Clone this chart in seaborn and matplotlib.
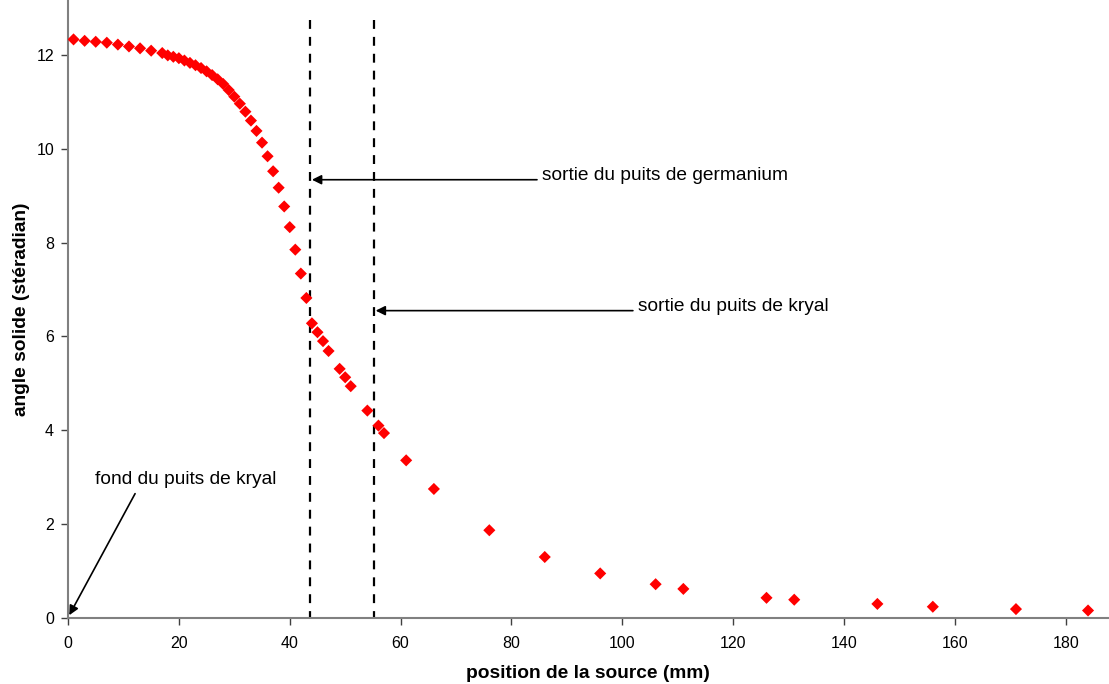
import matplotlib
matplotlib.use("Agg")
import matplotlib.pyplot as plt
import seaborn as sns
import pandas as pd

# Data
position_mm = [1, 3, 5, 7, 9, 11, 13, 15, 17, 18, 19, 20, 21, 22, 23, 24, 25, 26,
               27, 28, 29, 30, 31, 32, 33, 34, 35, 36, 37, 38, 39, 40, 41, 42, 43,
               44, 45, 46, 47, 49, 50, 51, 54, 56, 57, 61, 66, 76, 86, 96, 106, 111,
               126, 131, 146, 156, 171, 184]
angle_sr = [12.33, 12.30, 12.28, 12.26, 12.22, 12.18, 12.14, 12.09, 12.04, 11.99,
            11.96, 11.93, 11.88, 11.83, 11.78, 11.72, 11.65, 11.57, 11.48, 11.38,
            11.25, 11.11, 10.96, 10.79, 10.60, 10.38, 10.13, 9.84, 9.52, 9.17,
            8.77, 8.33, 7.85, 7.34, 6.82, 6.28, 6.09, 5.90, 5.69, 5.31, 5.13, 4.94,
            4.42, 4.10, 3.94, 3.36, 2.75, 1.87, 1.30, 0.95, 0.72, 0.62, 0.43, 0.39,
            0.30, 0.24, 0.19, 0.16]

x_ticks = [0, 20, 40, 60, 80, 100, 120, 140, 160, 180]
y_ticks = [0, 2, 4, 6, 8, 10, 12]

well_exits = [43.7, 55.2]  # sortie du puits de germanium / de kryal

label_germanium = "sortie du puits de germanium"
label_kryal = "sortie du puits de kryal"
label_fond = "fond du puits de kryal"

df = pd.DataFrame({"position": position_mm, "angle": angle_sr})

sns.set_style("white")
plt.rcParams["font.family"] = ["Liberation Sans", "DejaVu Sans"]
plt.rcParams["text.color"] = "black"
plt.rcParams["axes.labelcolor"] = "black"
plt.rcParams["xtick.color"] = "black"
plt.rcParams["ytick.color"] = "black"

fig = plt.figure(figsize=(11.09, 6.84), dpi=100)
ax = fig.add_axes([68 / 1109, 66 / 684, 1040 / 1109, 618 / 684])

sns.scatterplot(data=df, x="position", y="angle", marker="D", s=38,
                color="#FF0000", edgecolor="none", linewidth=0, ax=ax, zorder=3)

for xv in well_exits:
    ax.plot([xv, xv], [12.75, 0], color="black", lw=1.6,
            ls=(0, (4.0, 3.6)), zorder=2, clip_on=False)

arrow_kw = dict(arrowstyle="-|>", color="black", lw=1.2, shrinkA=0, shrinkB=0,
                mutation_scale=14)

ann_fs = 13.8

ax.annotate("", xy=(well_exits[0] + 0.3, 9.34), xytext=(84.6, 9.34),
            arrowprops=arrow_kw)
ax.text(85.5, 9.42, label_germanium, ha="left", va="center", fontsize=ann_fs)

ax.annotate("", xy=(well_exits[1] + 0.3, 6.55), xytext=(101.9, 6.55),
            arrowprops=arrow_kw)
ax.text(102.8, 6.64, label_kryal, ha="left", va="center", fontsize=ann_fs)

ax.annotate("", xy=(0.23, 0.06), xytext=(12.1, 2.65), arrowprops=arrow_kw)
ax.text(4.87, 2.96, label_fond, ha="left", va="center", fontsize=ann_fs)

ax.set_xlim(0, 187.6)
ax.set_ylim(0, 13.17)
ax.set_xticks(x_ticks)
ax.set_yticks(y_ticks)
ax.tick_params(axis="both", which="major", direction="out", length=5, width=1,
               color="#404040", labelsize=11.5, bottom=True, left=True)
ax.tick_params(axis="x", pad=8)
ax.tick_params(axis="y", pad=5)

for side in ["top", "right"]:
    ax.spines[side].set_visible(False)
for side in ["left", "bottom"]:
    ax.spines[side].set_color("#808080")
    ax.spines[side].set_linewidth(1.5)

ax.set_xlabel("position de la source (mm)", fontsize=ann_fs, fontweight="bold",
              labelpad=10)
ax.set_ylabel("angle solide (stéradian)", fontsize=ann_fs, fontweight="bold",
              labelpad=4.5)

fig.savefig("out.png", dpi=100)
